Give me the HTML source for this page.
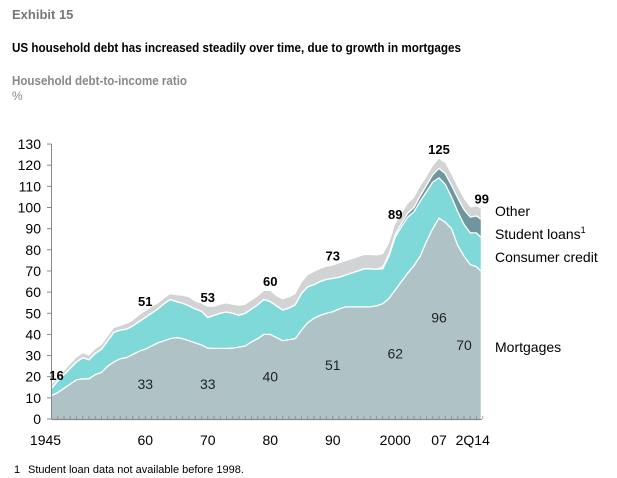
<!DOCTYPE html>
<html><head><meta charset="utf-8">
<style>
html,body{margin:0;padding:0;background:#fff;}
svg{display:block;font-family:"Liberation Sans",Arial,sans-serif;}
</style></head>
<body>
<svg id="chart" width="617" height="478" viewBox="0 0 617 478">
<text x="12" y="19" font-size="13" font-weight="bold" fill="#777">Exhibit 15</text>
<text x="12" y="52" font-size="13" font-weight="bold" fill="#000" textLength="449" lengthAdjust="spacingAndGlyphs">US household debt has increased steadily over time, due to growth in mortgages</text>
<text x="12" y="85" font-size="13" font-weight="bold" fill="#888" textLength="175" lengthAdjust="spacingAndGlyphs">Household debt-to-income ratio</text>
<text x="12" y="100" font-size="12" fill="#888">%</text>
<g id="plot"></g>
<text x="14" y="473" font-size="11" fill="#000">1</text>
<text x="28" y="473" font-size="11" fill="#000">Student loan data not available before 1998.</text>
</svg>
<script>
const years = [];
for (let y = 1945; y <= 2014; y++) years.push(y);
const mortgages = [11,12.5,14.5,16.5,18.5,19,19,21,22,25,27,28.5,29,30.5,32,33,34.5,36,37,38,38.5,38,37,36,35,33.5,33.4,33.4,33.4,33.5,34,34.5,36.5,38,40,40,38.5,37,37.5,38,42,45.5,47.6,49,50,50.7,52,53,53,53,53,53,53.5,54.5,57,61,65,69,72.5,77,84,90,95,93,90,82,77,73,72,70];
const consumerCredit = [3.5,5.5,6.5,7.5,8.5,10,9,10,11,12,14,13.5,13.5,13.5,14,15,15.5,16,17.5,18.5,17,16.7,16.5,16,16,14.5,15.6,16.6,17.2,16.5,15,15.5,15.5,16,16.5,15.5,15,14.5,15,16,17.4,17,15.9,16,16,15.8,15,15,16,17,18,18,17.3,16.5,20,25,26,26.5,25.5,26,23.5,22,19,18,15,16,15,15,16,16];
const studentLoans = [0,0,0,0,0,0,0,0,0,0,0,0,0,0,0,0,0,0,0,0,0,0,0,0,0,0,0,0,0,0,0,0,0,0,0,0,0,0,0,0,0,0,0,0,0,0,0,0,0,0,0,0,0,0.8,1,1.2,1.5,1.8,2,2.5,3,3.5,4.5,5,5.5,6.5,7,7.5,8,8.5];
const other = [1.5,1.5,1.5,2,2,2,2,2,2,2,2,2,2.5,2.5,3,3,3,2.5,2.5,2.5,3,3.5,4,3.5,3.5,5,4,4,4,4,4.5,4,4,4,4,5,4.5,5,5,5,5,5.5,6,6,6,6,6.5,6.5,6.5,6.5,6.5,6.5,6.5,6,5,5,4.5,4.5,4.5,4.5,4,4,4.5,5,5,5,5,4.5,4.5,5];
const yTicks = [0,10,20,30,40,50,60,70,80,90,100,110,120,130];
const xTickYears = [1945,1960,1970,1980,1990,2000,2007,2014];
const xTickLabels = ["1945","60","70","80","90","2000","07","2Q14"];
const totalLabels = [[1945,16],[1960,51],[1970,53],[1980,60],[1990,73],[2000,89],[2007,125],[2014,99]];
const mortLabels = [[1960,33],[1970,33],[1980,40],[1990,51],[2000,62],[2007,96],[2011,70]];

const NS = "http://www.w3.org/2000/svg";
const plot = document.getElementById('plot');
const X = yr => 51.5 + (yr - 1945) * 6.25;
const Y = v => 419 - v * 2.115;
function mk(tag, attrs, parent){const e=document.createElementNS(NS,tag);for(const k in attrs)e.setAttribute(k,attrs[k]);(parent||plot).appendChild(e);return e;}

const c1 = mortgages;
const c2 = c1.map((v,i)=>v+consumerCredit[i]);
const c3 = c2.map((v,i)=>v+studentLoans[i]);
const c4 = c3.map((v,i)=>v+other[i]);
const xEnd = X(2014) - 2;
const xs = years.map((y,i)=> i===years.length-1 ? xEnd : X(y));
function area(top,bottom){
  let d='M'+xs[0]+','+Y(top[0]);
  for(let i=1;i<xs.length;i++) d+='L'+xs[i]+','+Y(top[i]);
  for(let i=xs.length-1;i>=0;i--) d+='L'+xs[i]+','+Y(bottom?bottom[i]:0);
  return d+'Z';
}
function line(top){let d='M'+xs[0]+','+Y(top[0]);for(let i=1;i<xs.length;i++)d+='L'+xs[i]+','+Y(top[i]);return d;}
const layers=[[c4,c3,'#d2d3d4','other-area'],[c3,c2,'#6f969e','student-loans-area'],[c2,c1,'#80d9d9','consumer-credit-area'],[c1,null,'#afc3c7','mortgages-area']];
layers.forEach(L=>{
  const p=mk('path',{d:area(L[0],L[1]),fill:L[2]});
  
  
});
[c3,c2,c1].forEach(t=>{
  const p=mk('path',{d:line(t),fill:'none',stroke:'#fff','stroke-width':1.3});
  
  
});
const ya=mk('line',{x1:51.5,y1:Y(130),x2:51.5,y2:419,stroke:'#888','stroke-width':1});


const xa=mk('line',{x1:51.5,y1:419.5,x2:xEnd+1,y2:419.5,stroke:'#888','stroke-width':1.2});


years.forEach(y=>{
  const t=mk('line',{x1:X(y),y1:416,x2:X(y),y2:419,stroke:'#888','stroke-width':0.8});
  
  
});
yTicks.forEach(v=>{
  const t=mk('line',{x1:47,y1:Y(v),x2:51.5,y2:Y(v),stroke:'#888','stroke-width':1});
  
  
  const l=mk('text',{x:41,y:Y(v)+5,'text-anchor':'end','font-size':14,fill:'#000'});
  
  
  l.textContent=v;
});
xTickYears.forEach((y,i)=>{
  const l=mk('text',{x:X(y)+(i===0?-6:i===7?-10:0),y:445,'text-anchor':'middle','font-size':14,fill:'#000'});
  
  
  l.textContent=xTickLabels[i];
});
totalLabels.forEach(([y,v])=>{
  const i=years.indexOf(y);
  const l=mk('text',{x:X(y)+(y===1945?5:y===2014?-1:0),y:Y(c4[i])-5,'text-anchor':'middle','font-size':13,'font-weight':'bold',fill:'#000'});
  
  
  l.textContent=v;
});
mortLabels.forEach(([y,v])=>{
  const l=mk('text',{x:X(y),y:Y(v/2)+5,'text-anchor':'middle','font-size':14,fill:'#222'});
  
  
  l.textContent=v;
});
const legend=[["Other",216],["Student loans",239],["Consumer credit",262],["Mortgages",352]];
legend.forEach(([t,yy],i)=>{
  const l=mk('text',{x:495,y:yy,'font-size':14,fill:'#000'});
  
  
  l.textContent=t;
  if(i===1){const s=mk('tspan',{dy:-6,'font-size':9},l);s.textContent='1';}
});
</script>
</body></html>
